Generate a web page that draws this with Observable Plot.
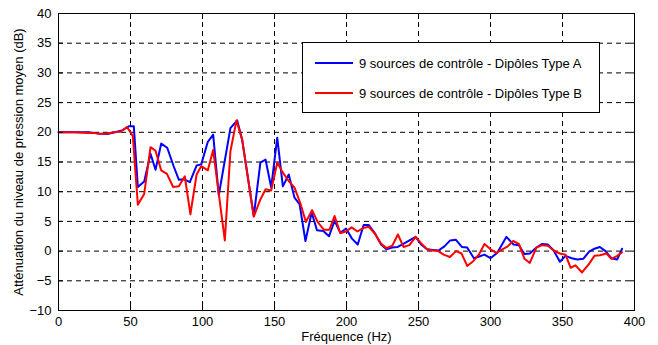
<!DOCTYPE html>
<html><head><meta charset="utf-8">
<script src="https://cdn.jsdelivr.net/npm/d3@7"></script>
<script src="https://cdn.jsdelivr.net/npm/@observablehq/plot@0.6"></script>
<style>
body{margin:0;background:#fff;font-family:"Liberation Sans",Arial,Helvetica,sans-serif;}
#wrap{position:relative;width:658px;height:345px;overflow:hidden;}
#legend{position:absolute;left:302px;top:42px;width:298px;height:71px;border:1px solid #000;background:#fff;box-sizing:border-box;font-size:13px;color:#000;}
.row{position:absolute;left:12px;height:16px;display:flex;align-items:center;white-space:nowrap;}
.sw{width:38px;height:0;border-top:2px solid;margin-right:6px;}
</style></head><body><div id="wrap"></div>
<script>
const seriesNames = ["9 sources de contrôle - Dipôles Type A", "9 sources de contrôle - Dipôles Type B"];
const seriesColors = ["#0000ff", "#ff0000"];
const xTicks = [0, 50, 100, 150, 200, 250, 300, 350, 400];
const yTicks = [-10, -5, 0, 5, 10, 15, 20, 25, 30, 35, 40];
const xLabel = "Fréquence (Hz)";
const yLabel = "Atténuation du niveau de pression moyen (dB)";

const freqA = [0,10.8,20.9,28.0,34.0,39.1,44.1,48.8,52.3,55.1,59.5,63.9,67.4,71.3,75.5,80.1,83.6,87.0,91.2,95.9,99.1,103.7,107.4,111.3,119.4,124.1,127.5,135.6,140.2,143.8,147.7,151.9,155.8,159.9,163.9,167.4,171.5,175.8,179.5,183.9,187.9,191.7,195.7,199.7,203.8,207.8,211.9,215.5,220.0,224.0,227.7,231.8,235.6,240.7,248.0,251.9,255.8,259.9,263.9,268.0,272.0,276.0,280.1,283.8,288.5,292.2,295.8,300.0,304.6,311.1,316.0,319.7,323.6,327.3,331.9,335.9,339.8,343.9,348.2,352.1,356.4,360.4,364.4,368.5,372.2,375.9,379.9,383.9,388.0,391.4];
const attA = [20,20,20,19.8,19.7,20,20.3,21.0,21.0,10.8,11.7,16.4,13.7,18.1,17.4,14.2,12.0,12.1,11.6,14.4,14.6,18.4,19.6,9.4,20.7,22.0,18.8,5.9,14.9,15.4,10.7,19.1,10.9,12.9,9.0,7.9,1.7,6.5,3.5,3.4,2.5,5.1,3.1,3.8,2.1,1.1,4.4,4.4,2.9,1.1,0.3,0.6,0.7,1.4,2.4,1.1,0.3,0.2,0.1,0.8,1.8,1.9,0.7,0.6,-1.2,-0.9,-0.6,-1.2,-0.3,2.4,1.1,1.0,-0.5,-0.4,0.6,1.2,1.1,0.1,-1.8,-0.8,-1.2,-1.4,-1.3,-0.1,0.4,0.7,0.0,-1.2,-1.4,0.4];

const freqB = [0,10.8,20.9,24.9,29.0,34.0,38.1,43.1,47.5,51.6,55.1,59.5,63.9,67.4,71.3,75.3,79.6,83.6,87.7,91.6,95.9,99.1,103.7,107.4,115.5,119.4,123.6,127.5,135.6,140.2,143.8,147.7,151.9,155.8,159.9,163.9,167.9,171.8,176.1,180.0,184.2,188.2,191.7,195.7,199.5,203.6,207.6,211.7,215.5,219.8,223.8,227.7,231.8,235.7,239.6,243.7,248.0,251.9,256.0,259.9,263.7,267.5,271.8,276.1,279.9,283.8,288.0,291.9,295.8,300.0,304.1,308.2,312.0,315.7,319.7,323.6,327.3,331.9,335.9,339.8,343.9,348.2,352.1,355.6,359.0,363.6,368.3,372.2,375.9,380.6,383.9,388.0,391.4];
const attB = [20,20,19.9,19.9,19.7,19.8,20,20.1,20.9,19.4,7.8,9.6,17.5,16.9,13.6,13.0,10.8,10.9,12.6,6.2,12.9,14.3,13.6,17.0,1.8,16.8,22.0,18.8,5.8,8.7,10.4,10.2,14.9,13.2,11.8,10.7,8.1,4.9,6.9,4.9,3.6,3.6,5.9,3.0,3.3,4.0,3.3,3.9,4.1,2.9,1.3,0.5,0.9,2.8,0.7,1.0,2.4,1.3,0.3,0.1,0,-0.6,-1.0,0,-0.4,-2.5,-1.7,-0.6,1.2,0.3,-0.3,0.3,0.8,1.7,1.2,-1.3,-2.0,0.6,1.0,0.9,0.1,-0.4,-0.6,-2.8,-2.4,-3.6,-2.2,-0.8,-0.7,-0.4,-1.3,-0.8,-0.2];

const rows = [
  ...freqA.map((f, i) => ({f, v: attA[i], s: seriesNames[0]})),
  ...freqB.map((f, i) => ({f, v: attB[i], s: seriesNames[1]}))
];

const dash = {stroke: "#000", strokeOpacity: 1, strokeWidth: 1, strokeDasharray: "5,4"};

const chart = Plot.plot({
  width: 658, height: 345,
  marginLeft: 58, marginRight: 24, marginTop: 13, marginBottom: 35,
  style: {fontFamily: '"Liberation Sans", Arial, Helvetica, sans-serif', fontSize: "13px", color: "#000", background: "#fff"},
  x: {domain: [0, 400]},
  y: {domain: [-10, 40]},
  color: {domain: seriesNames, range: seriesColors},
  marks: [
    Plot.gridX(xTicks.slice(1, -1), dash),
    Plot.gridY(yTicks.slice(1, -1), dash),
    Plot.line(rows, {x: "f", y: "v", z: "s", stroke: "s", strokeWidth: 2, strokeLinejoin: "round"}),
    Plot.frame({stroke: "#000", strokeWidth: 1}),
    Plot.axisX(xTicks, {tickSize: -5, tickPadding: 11, label: xLabel, labelAnchor: "center", labelOffset: 30, labelArrow: "none", fontSize: 13}),
    Plot.axisY(yTicks, {tickSize: -5, tickPadding: 12, label: yLabel, labelAnchor: "center", labelOffset: 45, labelArrow: "none", fontSize: 13}),
    Plot.axisX(xTicks, {anchor: "top", tickSize: -5, tickFormat: () => "", label: null}),
    Plot.axisY(yTicks, {anchor: "right", tickSize: -5, tickFormat: () => "", label: null})
  ]
});

const wrap = document.getElementById("wrap");
wrap.appendChild(chart);

const legend = document.createElement("div");
legend.id = "legend";
seriesNames.forEach((name, i) => {
  const row = document.createElement("div");
  row.className = "row";
  row.style.top = (12 + i * 30) + "px";
  const sw = document.createElement("span");
  sw.className = "sw";
  sw.style.borderTopColor = seriesColors[i];
  const t = document.createElement("span");
  t.textContent = name;
  row.appendChild(sw); row.appendChild(t);
  legend.appendChild(row);
});
wrap.appendChild(legend);
</script>
</body></html>
